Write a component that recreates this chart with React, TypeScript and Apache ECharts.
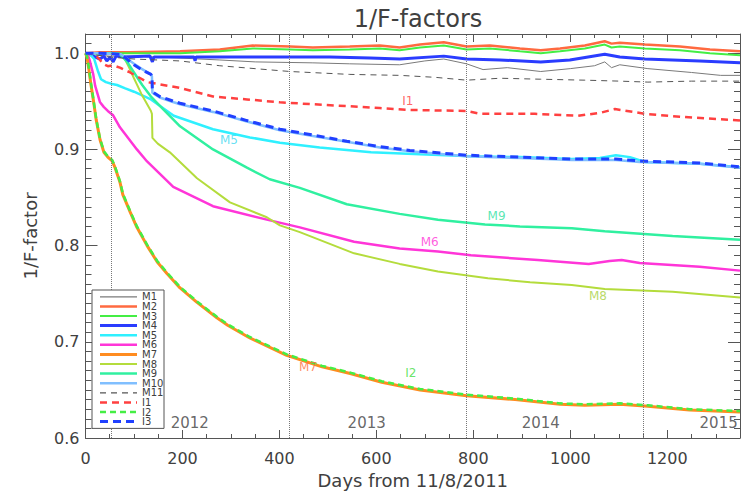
import React, { useEffect, useRef } from "react";
import * as echarts from "echarts";

const FONT = "'DejaVu Sans', sans-serif";

// x tick labels are produced by the axis (0..1200 every 200); y 0.6..1.0 every 0.1
const xTicks = [0, 200, 400, 600, 800, 1000, 1200];
const yTicks = [0.6, 0.7, 0.8, 0.9, 1.0];

// year boundaries (days from 11/8/2011)
const yearBoundaries = [54, 420, 785, 1150];
const yearNames = ["2012", "2013", "2014", "2015"];
const yearLabelDays = [215, 580, 939, 1306];

const m1 = [[0,1.0],[20,0.998],[50,0.997],[100,0.997],[195,0.995],[277,0.993],[350,0.991],[469,0.990],[545,0.989],[648,0.988],[700,0.992],[739,0.994],[786,0.989],[820,0.983],[870,0.985],[939,0.981],[1000,0.984],[1050,0.987],[1071,0.991],[1085,0.985],[1102,0.988],[1160,0.984],[1250,0.980],[1310,0.977],[1350,0.977]];
const m2 = [[0,1.0],[30,1.001],[92,1.001],[195,1.002],[277,1.004],[345,1.008],[422,1.007],[469,1.006],[545,1.007],[607,1.008],[648,1.006],[690,1.009],[739,1.0115],[786,1.007],[834,1.008],[896,1.005],[939,1.003],[979,1.005],[1030,1.008],[1071,1.0125],[1085,1.010],[1102,1.011],[1154,1.009],[1226,1.007],[1288,1.004],[1350,1.002]];
const m3 = [[0,1.0],[30,1.0],[92,1.0],[195,1.0],[277,1.002],[345,1.005],[422,1.004],[469,1.003],[545,1.004],[607,1.005],[648,1.003],[690,1.006],[739,1.008],[786,1.004],[834,1.005],[896,1.002],[939,1.0],[979,1.002],[1030,1.005],[1071,1.009],[1085,1.006],[1102,1.007],[1154,1.005],[1226,1.003],[1288,1.0],[1350,0.998]];
const m4 = [[0,1.0],[9,0.999],[20,0.996],[30,0.994],[38,0.997],[44,0.992],[51,0.996],[57,0.991],[63,0.997],[82,0.996],[133,0.997],[138,0.991],[141,0.996],[195,0.996],[224,0.996],[226,0.992],[228,0.996],[277,0.996],[339,0.996],[422,0.996],[504,0.996],[587,0.995],[648,0.994],[739,0.997],[786,0.994],[855,0.993],[939,0.991],[999,0.993],[1071,0.999],[1102,0.996],[1154,0.994],[1267,0.992],[1350,0.990]];
const m5 = [[0,1.0],[9,0.999],[18,0.994],[26,0.981],[32,0.973],[42,0.970],[55,0.968],[65,0.967],[82,0.9635],[100,0.960],[135,0.952],[182,0.935],[263,0.921],[339,0.9125],[401,0.907],[483,0.902],[589,0.897],[690,0.895],[795,0.893],[896,0.892],[1003,0.890],[1061,0.891],[1094,0.894],[1123,0.892],[1154,0.887],[1267,0.885],[1350,0.8815]];
const m6 = [[0,1.0],[5,0.998],[9,0.992],[16,0.978],[20,0.966],[30,0.949],[38,0.944],[46,0.940],[57,0.9355],[71,0.923],[106,0.900],[127,0.8875],[181,0.861],[263,0.841],[374,0.827],[442,0.819],[554,0.804],[648,0.797],[727,0.794],[795,0.790],[933,0.785],[1038,0.781],[1081,0.784],[1106,0.785],[1143,0.782],[1176,0.781],[1267,0.778],[1350,0.774]];
const m7 = [[0,1.0],[3,0.996],[7,0.983],[11,0.968],[16,0.952],[22,0.931],[30,0.910],[38,0.897],[46,0.892],[55,0.888],[61,0.881],[71,0.866],[77,0.853],[92,0.835],[106,0.819],[127,0.800],[148,0.783],[168,0.771],[195,0.756],[230,0.741],[271,0.725],[294,0.717],[339,0.704],[415,0.686],[488,0.674],[546,0.667],[611,0.658],[690,0.650],[786,0.644],[886,0.640],[979,0.635],[1030,0.634],[1102,0.635],[1160,0.633],[1246,0.629],[1350,0.627]];
const m8 = [[0,1.0],[30,1.0],[67,1.0],[77,0.998],[90,0.985],[100,0.974],[115,0.958],[135,0.940],[137,0.937],[138,0.912],[149,0.906],[174,0.897],[230,0.870],[298,0.845],[374,0.8295],[401,0.821],[442,0.814],[554,0.792],[648,0.781],[727,0.773],[830,0.766],[917,0.762],[1003,0.759],[1071,0.755],[1211,0.752],[1350,0.746]];
const m9 = [[0,1.0],[30,1.0],[61,1.0],[71,0.999],[86,0.991],[100,0.980],[117,0.967],[135,0.955],[160,0.942],[195,0.924],[263,0.900],[333,0.881],[380,0.869],[442,0.860],[539,0.843],[648,0.833],[727,0.827],[824,0.822],[896,0.820],[1003,0.818],[1071,0.815],[1211,0.810],[1350,0.806]];
const m10 = [[0,1.0],[30,1.0],[73,0.999],[100,0.989],[115,0.984],[135,0.978],[137,0.976],[138,0.959],[153,0.954],[182,0.949],[195,0.947],[263,0.939],[333,0.929],[401,0.920],[469,0.914],[539,0.908],[607,0.902],[669,0.898],[786,0.893],[896,0.891],[1003,0.889],[1094,0.889],[1143,0.887],[1267,0.885],[1350,0.881]];
const m11 = [[0,1.0],[50,0.996],[100,0.994],[195,0.992],[277,0.987],[422,0.981],[545,0.978],[648,0.977],[720,0.975],[786,0.972],[855,0.974],[939,0.973],[1030,0.972],[1102,0.971],[1160,0.970],[1250,0.971],[1350,0.971]];
const i1 = [[0,1.0],[9,1.0],[22,0.997],[30,0.993],[36,0.989],[46,0.9865],[57,0.9875],[71,0.985],[92,0.980],[127,0.970],[195,0.964],[263,0.955],[333,0.952],[401,0.949],[469,0.947],[539,0.945],[607,0.943],[669,0.941],[786,0.940],[815,0.937],[927,0.937],[1016,0.935],[1061,0.938],[1092,0.942],[1154,0.937],[1226,0.934],[1350,0.930]];
const i2 = [[0,1.0],[3,0.997],[7,0.985],[11,0.970],[16,0.953],[22,0.932],[30,0.911],[38,0.898],[46,0.893],[55,0.889],[61,0.882],[71,0.867],[77,0.854],[92,0.836],[106,0.820],[127,0.801],[148,0.784],[168,0.772],[195,0.757],[230,0.742],[271,0.726],[294,0.718],[339,0.705],[415,0.687],[488,0.675],[546,0.668],[611,0.659],[690,0.651],[786,0.645],[886,0.641],[979,0.636],[1030,0.635],[1102,0.636],[1160,0.634],[1246,0.630],[1350,0.628]];
const i3 = [[0,1.0],[30,1.0],[73,0.999],[100,0.988],[115,0.983],[135,0.978],[137,0.976],[138,0.960],[153,0.955],[182,0.950],[195,0.948],[263,0.940],[333,0.930],[401,0.921],[469,0.915],[539,0.9085],[607,0.903],[669,0.899],[786,0.894],[896,0.892],[1003,0.890],[1094,0.890],[1143,0.888],[1267,0.886],[1350,0.882]];

const seriesNames = ["M1","M2","M3","M4","M5","M6","M7","M8","M9","M10","M11","I1","I2","I3"];
const seriesData = [m1,m2,m3,m4,m5,m6,m7,m8,m9,m10,m11,i1,i2,i3];

// inline annotations: name, day, value
const annotNames = ["I1","M5","M9","M6","M8","M7","I2"];
const annotDays = [665, 296, 848, 710, 1057, 459, 671];
const annotValues = [0.950, 0.910, 0.831, 0.804, 0.748, 0.674, 0.668];
const yearLabelValue = 0.6156;

// styles (kept apart from data)
const styles: Record<string, { color: string; width: number; dash: any }> = {
  M1: { color: "#7a7a7a", width: 1, dash: "solid" },
  M2: { color: "#ff6a40", width: 2.5, dash: "solid" },
  M3: { color: "#44ee44", width: 2, dash: "solid" },
  M4: { color: "#2a3cff", width: 3, dash: "solid" },
  M5: { color: "#2ff0ff", width: 2.5, dash: "solid" },
  M6: { color: "#ff35d8", width: 2.5, dash: "solid" },
  M7: { color: "#ff8c20", width: 3, dash: "solid" },
  M8: { color: "#b4dc3c", width: 2, dash: "solid" },
  M9: { color: "#30f0a0", width: 2.5, dash: "solid" },
  M10: { color: "#80bfff", width: 2.5, dash: "solid" },
  M11: { color: "#555555", width: 1, dash: [6, 5] },
  I1: { color: "#ff4040", width: 2.5, dash: [7, 5] },
  I2: { color: "#44ee44", width: 2.5, dash: [6, 4] },
  I3: { color: "#2040ff", width: 3, dash: [8, 5] },
};
const annotColors: Record<string, string> = {
  I1: "#ff4040", M5: "#40d8f0", M9: "#30e0a0", M6: "#ff35d8", M8: "#a8d040", M7: "#ff7040", I2: "#44dd44",
};

const AXIS_COLOR = "#555";
const TEXT_COLOR = "#404040";

// legend box layout
const LEG = { x: 92, y: 290, w: 72, rowH: 9.6, lineX1: 100, lineX2: 137, textX: 142 };

export default function App() {
  const ref = useRef<HTMLDivElement>(null);
  useEffect(() => {
    document.body.style.margin = "0";
    if (!ref.current) return;
    const chart = echarts.init(ref.current, undefined, { renderer: "svg" });

    const lineSeries: any[] = seriesNames.map((name, idx) => {
      const s = styles[name];
      const ser: any = {
        type: "line",
        name,
        data: seriesData[idx],
        symbol: "none",
        showSymbol: false,
        lineStyle: { color: s.color, width: s.width, type: s.dash },
        itemStyle: { color: s.color },
        emphasis: { disabled: true },
        z: 3,
      };
      if (idx === 0) {
        ser.markLine = {
          silent: true,
          symbol: "none",
          label: { show: false },
          lineStyle: { type: "dotted", color: "#777", width: 1 },
          data: yearBoundaries.map((d) => ({ xAxis: d })),
        };
      }
      return ser;
    });

    const annotSeries = {
      type: "scatter",
      name: "annotations",
      symbolSize: 0,
      silent: true,
      z: 5,
      data: annotNames.map((n, i) => ({
        value: [annotDays[i], annotValues[i]],
        text: n,
        label: { color: annotColors[n] },
      })),
      label: {
        show: true,
        position: "inside",
        fontFamily: FONT,
        fontSize: 12,
        formatter: (p: any) => p.data.text,
      },
    };
    const yearSeries = {
      type: "scatter",
      name: "years",
      symbolSize: 0,
      silent: true,
      z: 5,
      data: yearNames.map((n, i) => ({ value: [yearLabelDays[i], yearLabelValue], text: n })),
      label: {
        show: true,
        position: "inside",
        fontFamily: FONT,
        fontSize: 15,
        color: TEXT_COLOR,
        formatter: (p: any) => p.data.text,
      },
    };

    const legendH = seriesNames.length * LEG.rowH + 4;
    const legendGraphic: any[] = [
      {
        type: "rect",
        z: 100,
        shape: { x: LEG.x, y: LEG.y, width: LEG.w, height: legendH },
        style: { fill: "#fff", stroke: AXIS_COLOR, lineWidth: 1 },
        silent: true,
      },
    ];
    seriesNames.forEach((name, i) => {
      const s = styles[name];
      const cy = LEG.y + 2 + LEG.rowH * (i + 0.5);
      legendGraphic.push({
        type: "line",
        z: 101,
        silent: true,
        shape: { x1: LEG.lineX1, y1: cy, x2: LEG.lineX2, y2: cy },
        style: {
          stroke: s.color,
          lineWidth: Math.max(1.2, s.width),
          lineDash: Array.isArray(s.dash) ? s.dash : null,
        },
      });
      legendGraphic.push({
        type: "text",
        z: 101,
        silent: true,
        x: LEG.textX,
        y: cy,
        style: {
          text: name,
          fill: TEXT_COLOR,
          font: `10px ${FONT}`,
          verticalAlign: "middle",
          align: "left",
        },
      });
    });

    const xBase = {
      type: "value",
      min: xTicks[0],
      max: 1350,
      interval: xTicks[1] - xTicks[0],
      splitLine: { show: false },
      axisLine: { show: true, onZero: false, lineStyle: { color: AXIS_COLOR, width: 1 } },
      axisTick: { show: true, inside: true, length: 8, lineStyle: { color: AXIS_COLOR } },
      minorTick: { show: true, splitNumber: 4, length: 4, lineStyle: { color: AXIS_COLOR } },
    };
    const yBase = {
      type: "value",
      min: yTicks[0],
      max: 1.02,
      interval: 0.1,
      splitLine: { show: false },
      axisLine: { show: true, onZero: false, lineStyle: { color: AXIS_COLOR, width: 1 } },
      axisTick: { show: true, inside: true, length: 12, lineStyle: { color: AXIS_COLOR } },
      minorTick: { show: true, splitNumber: 10, length: 6, lineStyle: { color: AXIS_COLOR } },
    };

    chart.setOption({
      animation: false,
      title: {
        text: "1/F-factors",
        left: 413,
        top: 2,
        textAlign: "center",
        textStyle: { fontFamily: FONT, fontSize: 24, fontWeight: "normal", color: TEXT_COLOR },
      },
      grid: { left: 85.5, right: 10, top: 34, bottom: 60, containLabel: false },
      graphic: legendGraphic,
      xAxis: [
        {
          ...xBase,
          position: "bottom",
          name: "Days from 11/8/2011",
          nameLocation: "middle",
          nameGap: 33,
          nameTextStyle: { fontFamily: FONT, fontSize: 18, color: TEXT_COLOR },
          axisLabel: {
            show: true,
            margin: 12,
            fontFamily: FONT,
            fontSize: 16,
            color: TEXT_COLOR,
            showMaxLabel: false,
            formatter: (v: number) => String(v),
          },
        },
        { ...xBase, position: "top", axisLabel: { show: false } },
      ],
      yAxis: [
        {
          ...yBase,
          position: "left",
          name: "1/F-factor",
          nameLocation: "middle",
          nameGap: 46,
          nameRotate: 90,
          nameTextStyle: { fontFamily: FONT, fontSize: 18, color: TEXT_COLOR },
          axisLabel: {
            show: true,
            margin: 6,
            fontFamily: FONT,
            fontSize: 16,
            color: TEXT_COLOR,
            showMaxLabel: false,
            formatter: (v: number) => v.toFixed(1),
          },
        },
        { ...yBase, position: "right", axisLabel: { show: false } },
      ],
      series: [...lineSeries, annotSeries, yearSeries],
    });
    return () => chart.dispose();
  }, []);
  return <div ref={ref} style={{ width: 750, height: 498 }} />;
}
